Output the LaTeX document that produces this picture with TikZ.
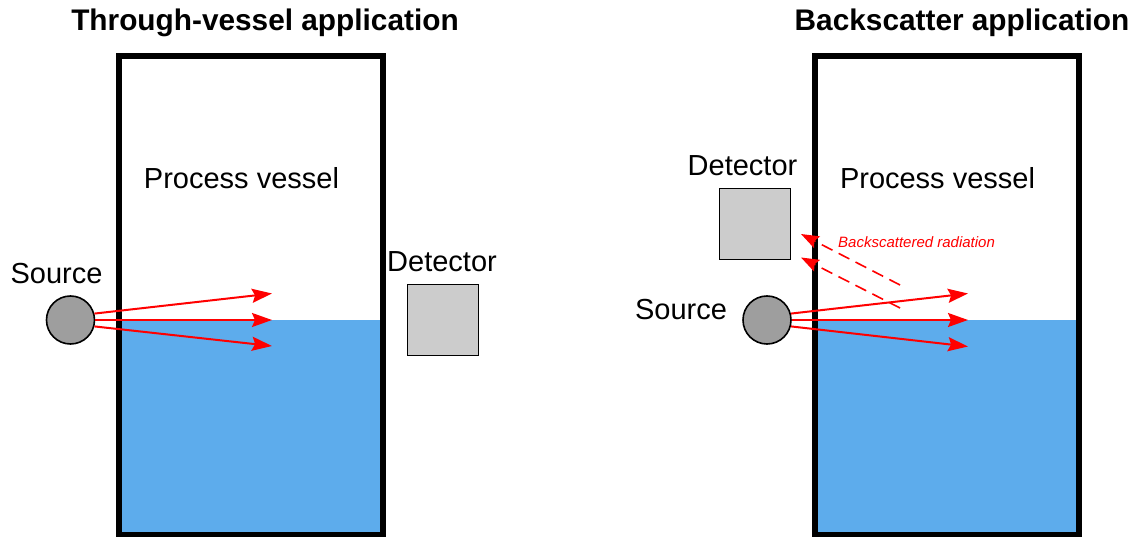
\documentclass[tikz,border=0pt]{standalone}
\usepackage{fontspec}
\setmainfont{Liberation Sans}
\usetikzlibrary{arrows.meta}
\definecolor{water}{RGB}{93,172,236}
\definecolor{srcgray}{RGB}{158,158,158}
\definecolor{detgray}{RGB}{204,204,204}
\tikzset{
  wall/.style={line width=6pt, miter limit=10},
  srcnode/.style={circle, draw=black, line width=1.6pt, fill=srcgray, minimum size=48pt, inner sep=0pt},
  detnode/.style={rectangle, draw=black, line width=1.6pt, fill=detgray, minimum size=71pt, inner sep=0pt},
  lbl/.style={font=\fontsize{29}{32}\selectfont, inner sep=0pt, anchor=base},
  ttl/.style={font=\bfseries\fontsize{29.8}{32}\selectfont, inner sep=0pt, anchor=base},
  ray/.style={red, line width=2pt, -{Stealth[length=20pt, width=14pt, inset=3pt]}},
  scat/.style={red, line width=1.6pt, dash pattern=on 12pt off 7pt, -{Stealth[length=18pt, width=13pt, inset=3pt]}},
  scatlbl/.style={red, font=\itshape\fontsize{15}{16}\selectfont, inner sep=0pt, anchor=base west}
}
\begin{document}
\begin{tikzpicture}[x=1pt, y=-1pt]
\useasboundingbox (0,0) rectangle (1136,537);
% ---------- Through-vessel application ----------
\node[ttl] (titleL) at (265,31) {Through-vessel application};
\fill[water] (119,320) rectangle (383,535);
\draw[wall] (119,56) rectangle (383,535);
\node[lbl] (pvL) at (241.5,188.5) {Process vessel};
\node[srcnode] (srcL) at (70.5,320) {};
\node[lbl] (srcLlbl) at (56.5,284) {Source};
\node[detnode] (detL) at (443,320) {};
\node[lbl] (detLlbl) at (442,272) {Detector};
\coordinate (tL1) at (272,293.5);
\coordinate (tL2) at (272,320);
\coordinate (tL3) at (272,346);
\draw[ray] (srcL.15) -- (tL1);
\draw[ray] (srcL.east) -- (tL2);
\draw[ray] (srcL.-15) -- (tL3);
% ---------- Backscatter application ----------
\node[ttl] (titleR) at (962,31) {Backscatter application};
\fill[water] (815,320) rectangle (1079,535);
\draw[wall] (815,56) rectangle (1079,535);
\node[lbl] (pvR) at (937.5,188.5) {Process vessel};
\node[srcnode] (srcR) at (767,320) {};
\node[lbl] (srcRlbl) at (681,320) {Source};
\node[detnode] (detR) at (755,224) {};
\node[lbl] (detRlbl) at (742.5,176) {Detector};
\coordinate (tR1) at (968,293.5);
\coordinate (tR2) at (968,320);
\coordinate (tR3) at (968,346.5);
\draw[ray] (srcR.15) -- (tR1);
\draw[ray] (srcR.east) -- (tR2);
\draw[ray] (srcR.-15) -- (tR3);
\coordinate (bs1s) at (900,285);
\coordinate (bs1e) at (801,234);
\coordinate (bs2s) at (900,308);
\coordinate (bs2e) at (801,257.5);
\draw[scat] (bs1s) -- (bs1e);
\draw[scat] (bs2s) -- (bs2e);
\node[scatlbl] (bslbl) at (838,248) {Backscattered radiation};
\end{tikzpicture}
\end{document}
